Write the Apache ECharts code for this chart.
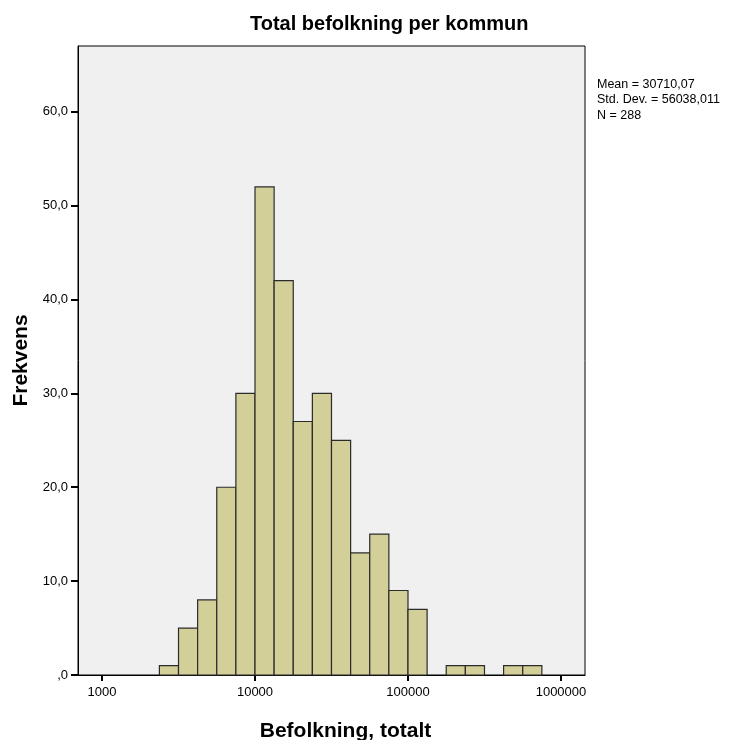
<!DOCTYPE html>
<html>
<head>
<meta charset="utf-8">
<script src="https://cdn.jsdelivr.net/npm/echarts@6/dist/echarts.min.js"></script>
<style>
  html, body { margin: 0; padding: 0; background: #fff; }
  #chart-container { width: 736px; height: 740px; }
</style>
</head>
<body>
<div id="chart-container"></div>
<script>
var dom = document.getElementById('chart-container');
var myChart = echarts.init(dom, null, { renderer: 'canvas' });

// bins are 1/8 of a decade wide, lower edge given as log10(population)
var binStart = [3.375, 3.5, 3.625, 3.75, 3.875, 4.0, 4.125, 4.25, 4.375, 4.5,
                4.625, 4.75, 4.875, 5.0, 5.25, 5.375, 5.625, 5.75];
var binWidth = 0.125;
var counts = [1, 5, 8, 20, 30, 52, 42, 27, 30, 25, 13, 15, 9, 7, 1, 1, 1, 1];
var xTicks = [3, 4, 5, 6];
var statLines = ['Mean = 30710,07', 'Std. Dev. = 56038,011', 'N = 288'];

var font = "'Liberation Sans', Arial, sans-serif";

var data = binStart.map(function (b, i) {
  return [b, b + binWidth, counts[i]];
});

var option = {
  animation: false,
  title: {
    text: 'Total befolkning per kommun',
    left: 245,
    top: 9,
    textStyle: { fontFamily: font, fontSize: 20, fontWeight: 'bold', color: '#000' }
  },
  grid: {
    left: 78, right: 151, top: 46, bottom: 65,
    outerBoundsMode: 'none',
    containLabel: false,
    show: true,
    backgroundColor: '#f0f0f0',
    borderColor: '#000',
    borderWidth: 1
  },
  xAxis: {
    type: 'value',
    min: 2.843,
    max: 6.157,
    name: 'Befolkning, totalt',
    nameLocation: 'middle',
    nameGap: 46,
    nameTextStyle: { fontFamily: font, fontSize: 21, fontWeight: 'bold', color: '#000', padding: [0, 0, 0, 28] },
    axisLine: { lineStyle: { color: '#000', width: 1 } },
    axisTick: { customValues: xTicks, length: 6, lineStyle: { color: '#000', width: 2 } },
    axisLabel: {
      customValues: xTicks,
      formatter: function (v) { return String(Math.round(Math.pow(10, v))); },
      fontFamily: font,
      fontSize: 13, color: '#000', margin: 11
    },
    splitLine: { show: false }
  },
  yAxis: {
    type: 'value',
    min: 0,
    max: 67,
    interval: 10,
    name: 'Frekvens',
    nameLocation: 'middle',
    nameGap: 46,
    nameTextStyle: { fontFamily: font, fontSize: 21, fontWeight: 'bold', color: '#000' },
    axisLine: { show: true, lineStyle: { color: '#000', width: 1 } },
    axisTick: { show: true, length: 7, lineStyle: { color: '#000', width: 2 } },
    axisLabel: {
      formatter: function (v) { return v === 0 ? ',0' : v.toFixed(1).replace('.', ','); },
      fontFamily: font,
      fontSize: 13, color: '#000', margin: 10,
      showMaxLabel: false
    },
    splitLine: { show: false }
  },
  graphic: statLines.map(function (t, i) {
    return {
      type: 'text',
      left: 597,
      top: 78 + i * 15.5,
      style: { text: t, fontFamily: font, fontSize: 12.5, fill: '#000' }
    };
  }),
  series: [
    {
      type: 'custom',
      data: data,
      encode: { x: [0, 1], y: 2 },
      renderItem: function (params, api) {
        var p0 = api.coord([api.value(0), api.value(2)]);
        var p1 = api.coord([api.value(1), 0]);
        return {
          type: 'rect',
          shape: { x: p0[0], y: p0[1], width: p1[0] - p0[0], height: p1[1] - p0[1] },
          style: { fill: '#d3cf99', stroke: '#2b2b2b', lineWidth: 1.2 }
        };
      }
    }
  ]
};

myChart.setOption(option);
window.addEventListener('resize', myChart.resize);
</script>
</body>
</html>
